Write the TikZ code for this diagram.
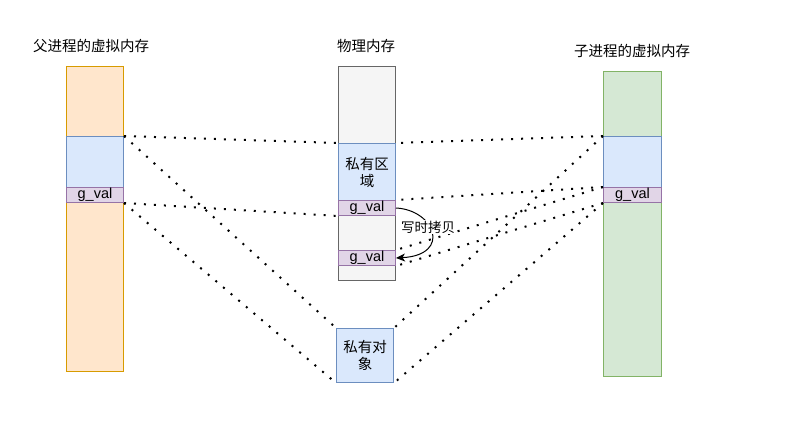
\documentclass[tikz,border=0pt]{standalone}
\usepackage{fontspec}
\setmainfont{Liberation Sans}
\newfontfamily\cjk{Noto Sans CJK SC}
\usetikzlibrary{arrows.meta}
\definecolor{orangeF}{HTML}{FFE6CC}\definecolor{orangeD}{HTML}{D79B00}
\definecolor{blueF}{HTML}{DAE8FC}\definecolor{blueD}{HTML}{6C8EBF}
\definecolor{purpF}{HTML}{E1D5E7}\definecolor{purpD}{HTML}{9673A6}
\definecolor{grayF}{HTML}{F5F5F5}\definecolor{grayD}{HTML}{666666}
\definecolor{greenF}{HTML}{D5E8D4}\definecolor{greenD}{HTML}{82B366}
\begin{document}
\begin{tikzpicture}[x=1pt,y=-1pt,
  blk/.style={rectangle, draw, line width=1pt, inner sep=0pt, anchor=north west, font=\fontsize{14.5}{17}\selectfont, align=center},
  orangebox/.style={blk, fill=orangeF, draw=orangeD},
  bluebox/.style={blk, fill=blueF, draw=blueD},
  purpbox/.style={blk, fill=purpF, draw=purpD},
  graybox/.style={blk, fill=grayF, draw=grayD},
  greenbox/.style={blk, fill=greenF, draw=greenD},
  title/.style={font=\cjk\fontsize{14.5}{17}\selectfont, inner sep=0pt},
  dotl/.style={line width=2pt, dash pattern=on 2pt off 8pt}]
\useasboundingbox (0,0) rectangle (792,422);
\fill[white] (0,0) rectangle (792,422);
% titles
\node[title] (tp) at (91,46) {父进程的虚拟内存};
\node[title] (tm) at (366,46) {物理内存};
\node[title] (tc) at (632,51) {子进程的虚拟内存};
% parent
\node[orangebox, minimum width=57, minimum height=305] (pv) at (66,66) {};
\node[bluebox, minimum width=57, minimum height=51] (pb) at (66,136) {};
\node[purpbox, minimum width=57, minimum height=15] (pg) at (66,187) {g\_val};
% physical
\node[graybox, minimum width=57, minimum height=214] (mv) at (338,66) {};
\node[bluebox, minimum width=57, minimum height=57, font=\cjk\fontsize{14.5}{17}\selectfont] (mb) at (338,143) {私有区\\域};
\node[purpbox, minimum width=57, minimum height=15] (mg1) at (338,200) {g\_val};
\node[purpbox, minimum width=57, minimum height=15] (mg2) at (338,250) {g\_val};
% private object
\node[bluebox, minimum width=57, minimum height=54, font=\cjk\fontsize{14.5}{17}\selectfont] (obj) at (336,328) {私有对\\象};
% child
\node[greenbox, minimum width=58, minimum height=305] (cv) at (603,71) {};
\node[bluebox, minimum width=58, minimum height=51] (cb) at (603,136) {};
\node[purpbox, minimum width=58, minimum height=15] (cg) at (603,187) {g\_val};
% dotted links
\draw[dotl] (pb.north east) -- (mb.north west);
\draw[dotl] (pb.north east) -- (obj.north west);
\draw[dotl] (pg.south east) -- (mg1.south west);
\draw[dotl] (pg.south east) -- (obj.south west);
\draw[dotl] (cb.north west) -- (mb.north east);
\draw[dotl] (cb.north west) -- (obj.north east);
\draw[dotl] (cg.north west) -- (mg1.north east);
\draw[dotl] (cg.north west) -- (mg2.north east);
\draw[dotl] (cg.south west) -- (mg2.south east);
\draw[dotl] (cg.south west) -- (obj.south east);
% copy on write
\draw[line width=1pt, -{Stealth[length=9pt, width=8pt, inset=2.5pt]}] (mg1.east) .. controls (435,210) and (452,255) .. (mg2.east);
\node[title, fill=white, inner sep=1pt, font=\cjk\fontsize{13.5}{16}\selectfont] (cow) at (428,227) {写时拷贝};
\end{tikzpicture}
\end{document}
